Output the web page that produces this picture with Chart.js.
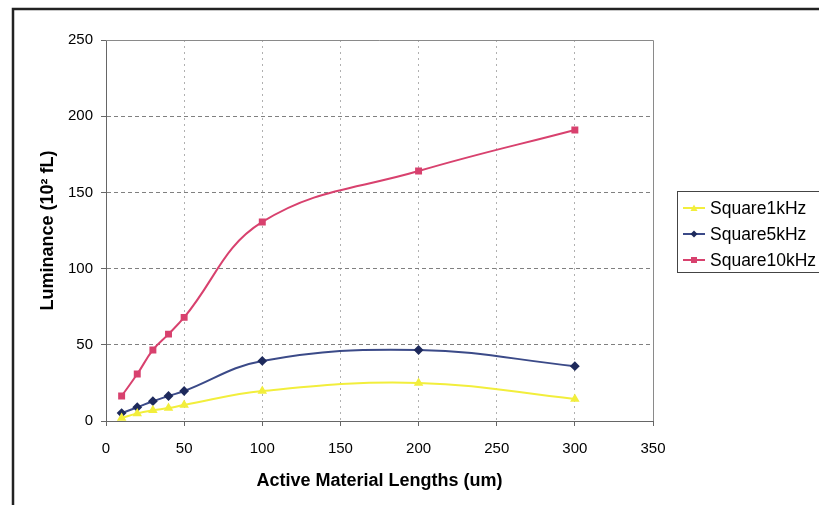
<!DOCTYPE html>
<html>
<head>
<meta charset="utf-8">
<script src="https://cdn.jsdelivr.net/npm/chart.js@4/dist/chart.umd.min.js"></script>
<style>
  html, body { margin: 0; padding: 0; background: #fff; }
  #wrap { width: 819px; height: 505px; }
</style>
</head>
<body>
<div id="wrap"><canvas id="c" width="819" height="505"></canvas></div>
<script>
// Active material length (um)
const lengths = [10, 20, 30, 40, 50, 100, 200, 300];
// Luminance (10^2 fL) for each drive condition
const square1kHz  = [2, 5, 7, 8.5, 10.5, 19.7, 25, 14.5];
const square5kHz  = [5.2, 9, 13, 16.4, 19.7, 39.4, 46.6, 36];
const square10kHz = [16.4, 30.8, 46.6, 57, 68, 130.6, 164, 191];
const seriesNames = ['Square1kHz', 'Square5kHz', 'Square10kHz'];
const xTicks = [0, 50, 100, 150, 200, 250, 300, 350];
const yTicks = [0, 50, 100, 150, 200, 250];

const colors = {
  yellow: '#f2ee3c',
  blue: '#3b4a88',
  blueMark: '#1e2a5c',
  red: '#d8416e'
};

function toPoints(ys) { return lengths.map((x, i) => ({ x, y: ys[i] })); }

const family = 'Arial, "Liberation Sans", sans-serif';

// Outer frame, plot frame and the boxed legend
const decor = {
  id: 'decor',
  beforeDraw(chart) {
    const ctx = chart.ctx;
    ctx.save();
    ctx.fillStyle = '#ffffff';
    ctx.fillRect(0, 0, chart.width, chart.height);
    ctx.strokeStyle = '#222';
    ctx.lineWidth = 2.5;
    ctx.beginPath();
    ctx.moveTo(13, chart.height);
    ctx.lineTo(13, 9);
    ctx.lineTo(chart.width, 9);
    ctx.stroke();
    ctx.restore();
  },
  afterDatasetsDraw(chart) {
    const ctx = chart.ctx;
    const a = chart.chartArea;
    ctx.save();
    ctx.strokeStyle = '#8a8a8a';
    ctx.lineWidth = 1;
    ctx.beginPath();
    ctx.moveTo(a.left, a.top + 0.5);
    ctx.lineTo(a.right + 0.5, a.top + 0.5);
    ctx.lineTo(a.right + 0.5, a.bottom);
    ctx.stroke();

    // legend
    const lx = 677, ly = 191, lw = 150, lh = 81;
    ctx.strokeStyle = '#444';
    ctx.lineWidth = 1;
    ctx.strokeRect(lx + 0.5, ly + 0.5, lw, lh);
    ctx.font = '17.5px ' + family;
    ctx.textBaseline = 'middle';
    ctx.textAlign = 'left';
    chart.data.datasets.forEach((ds, i) => {
      const y = ly + 17 + i * 26;
      ctx.strokeStyle = ds.borderColor;
      ctx.lineWidth = 2;
      ctx.beginPath();
      ctx.moveTo(lx + 6, y);
      ctx.lineTo(lx + 28, y);
      ctx.stroke();
      drawMarker(ctx, ds.pointStyle, lx + 17, y, ds.pointBackgroundColor);
      ctx.fillStyle = '#000';
      ctx.fillText(seriesNames[i], lx + 33, y + 1);
    });
    ctx.restore();
  }
};

function drawMarker(ctx, style, x, y, color) {
  ctx.fillStyle = color;
  ctx.beginPath();
  if (style === 'rect') {
    ctx.rect(x - 3, y - 3, 6, 6);
  } else if (style === 'rectRot') {
    ctx.moveTo(x, y - 3.5); ctx.lineTo(x + 3.5, y); ctx.lineTo(x, y + 3.5); ctx.lineTo(x - 3.5, y);
    ctx.closePath();
  } else {
    ctx.moveTo(x, y - 3.5); ctx.lineTo(x + 3.5, y + 3); ctx.lineTo(x - 3.5, y + 3);
    ctx.closePath();
  }
  ctx.fill();
}

const tickFont = { family, size: 15 };
const titleFont = { family, size: 18, weight: 'bold' };

new Chart(document.getElementById('c'), {
  type: 'line',
  data: {
    datasets: [
      {
        label: seriesNames[0], data: toPoints(square1kHz),
        borderColor: colors.yellow, backgroundColor: colors.yellow,
        pointBackgroundColor: colors.yellow, pointBorderColor: colors.yellow,
        pointStyle: 'triangle', pointRadius: 3.5, borderWidth: 2, tension: 0.4
      },
      {
        label: seriesNames[1], data: toPoints(square5kHz),
        borderColor: colors.blue, backgroundColor: colors.blueMark,
        pointBackgroundColor: colors.blueMark, pointBorderColor: colors.blueMark,
        pointStyle: 'rectRot', pointRadius: 3.5, borderWidth: 2, tension: 0.4
      },
      {
        label: seriesNames[2], data: toPoints(square10kHz),
        borderColor: colors.red, backgroundColor: colors.red,
        pointBackgroundColor: colors.red, pointBorderColor: colors.red,
        pointStyle: 'rect', pointRadius: 3.5, borderWidth: 2, tension: 0.4
      }
    ]
  },
  options: {
    responsive: false,
    animation: false,
    layout: { padding: { left: 37, right: 166, top: 40, bottom: 13 } },
    plugins: { legend: { display: false }, tooltip: { enabled: false } },
    scales: {
      x: {
        type: 'linear', min: 0, max: 350,
        afterBuildTicks(scale) { scale.ticks = xTicks.map(v => ({ value: v })); },
        afterFit(scale) { scale.height = 71; },
        ticks: { color: '#000', font: tickFont, padding: 14, maxRotation: 0 },
        grid: {
          color: ctx => (ctx.tick && (ctx.tick.value === 0 || ctx.tick.value === 350)) ? 'rgba(0,0,0,0)' : '#b0b0b0',
          tickColor: '#666', tickLength: 5, tickBorderDash: [],
          drawTicks: true
        },
        border: { display: true, color: '#666', width: 1, dash: [2, 4] },
        title: {
          display: true, text: 'Active Material Lengths (um)', color: '#000',
          font: titleFont, padding: { top: 4, bottom: 0 }
        }
      },
      y: {
        type: 'linear', min: 0, max: 250,
        afterBuildTicks(scale) { scale.ticks = yTicks.map(v => ({ value: v })); },
        afterFit(scale) { scale.width = 69; },
        ticks: { color: '#000', font: tickFont, padding: 8 },
        grid: {
          color: ctx => (ctx.tick && (ctx.tick.value === 0 || ctx.tick.value === 250)) ? 'rgba(0,0,0,0)' : '#808080',
          tickColor: '#666', tickLength: 5, tickBorderDash: [],
          drawTicks: true
        },
        border: { display: true, color: '#666', width: 1, dash: [4, 3] },
        title: {
          display: true, text: 'Luminance (10² fL)', color: '#000',
          font: titleFont, padding: { top: 0, bottom: 0 }
        }
      }
    }
  },
  plugins: [decor]
});
</script>
</body>
</html>
